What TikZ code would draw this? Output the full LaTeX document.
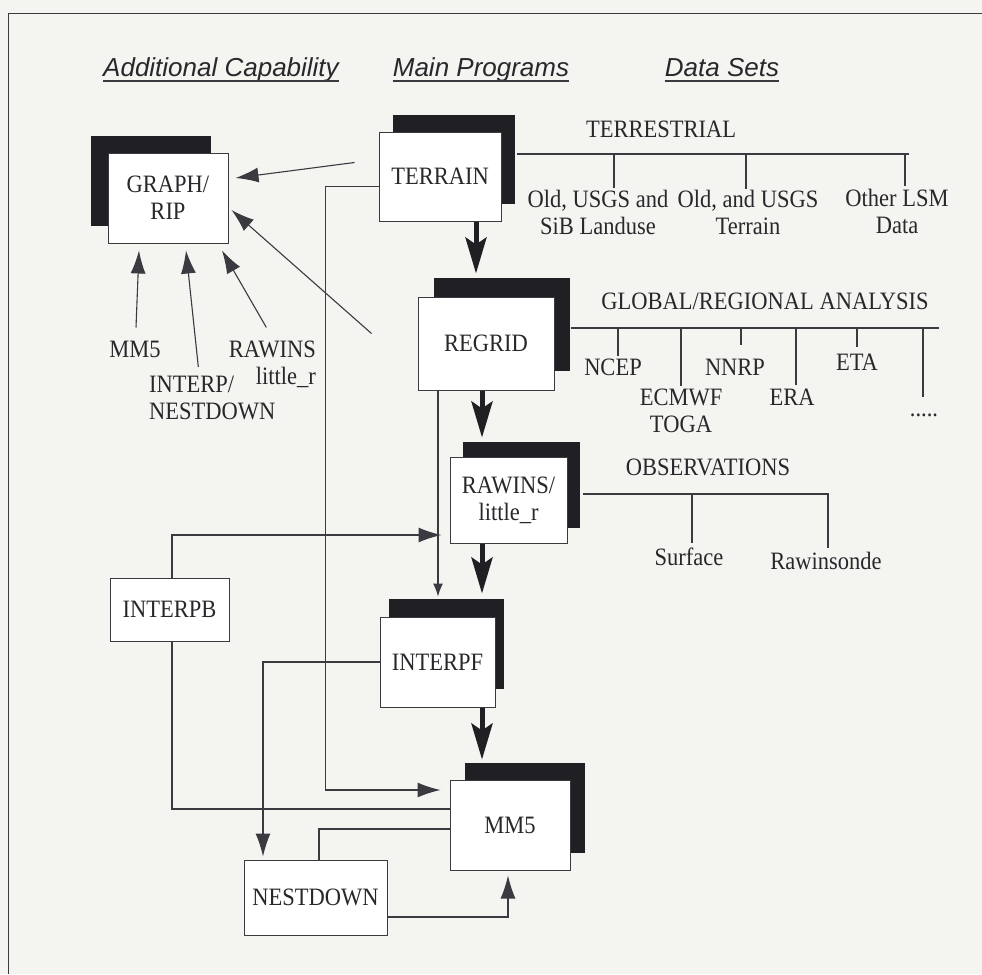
\documentclass[tikz,border=0pt]{standalone}
\usepackage{fontspec}
\setmainfont{Liberation Serif}[FakeStretch=0.9]
\setsansfont{Liberation Sans}
\definecolor{paper}{RGB}{244, 244, 241}
\definecolor{inkgray}{RGB}{58, 58, 64}
\definecolor{shadowblk}{RGB}{32, 32, 36}
\definecolor{textblk}{RGB}{40, 40, 44}
\usetikzlibrary{arrows.meta, positioning, calc, shadows}

\tikzset{
  prog/.style={draw=inkgray, line width=1pt, fill=white, inner sep=0pt, align=center, text=textblk, font=\fontsize{25}{27}\selectfont},
  boxshadow/.style 2 args={drop shadow={shadow xshift=#1, shadow yshift=#2, fill=shadowblk, opacity=1}},
  heading/.style={inner sep=0pt, anchor=base, text=textblk, font=\sffamily\itshape\fontsize{26}{30}\selectfont},
  dataset/.style={inner sep=0pt, align=center, text=textblk, font=\fontsize{25}{27}\selectfont},
  link/.style={draw=inkgray, line width=1.1pt},
  flow/.style={link, -{Latex[length=23pt, width=15pt]}},
  smallflow/.style={link, -{Latex[length=13pt, width=10pt]}},
  mainflow/.style={draw=shadowblk, line width=5pt, -{Stealth[length=36pt, width=21pt, inset=7pt]}}
}

\begin{document}
\begin{tikzpicture}[x=1pt, y=-1pt]
  \fill[paper] (0,0) rectangle (982,974);
  \useasboundingbox (0,0) rectangle (982,974);
  \draw[link, line width=0.8pt] (982,13) -- (8,13) -- (8,974);

  % Column headings
  \node[heading] (hcap) at (221,76) {Additional Capability};
  \node[heading] (hmain) at (481,76) {Main Programs};
  \node[heading] (hdata) at (722,76) {Data Sets};
  \foreach \h in {hcap, hmain, hdata} {
    \draw[link] ([yshift=-5pt]\h.base west) -- ([yshift=-5pt]\h.base east);
  }

  % Programs
  \node[prog, minimum width=120pt, minimum height=90pt, boxshadow={-17pt}{17pt}] (graph) at (168,198) {GRAPH/\\RIP};
  \node[prog, minimum width=122pt, minimum height=89pt, boxshadow={14pt}{17pt}] (terrain) at (440,176.5) {TERRAIN};
  \node[prog, minimum width=136pt, minimum height=93pt, boxshadow={16pt}{19pt}] (regrid) at (486,343.5) {REGRID};
  \node[prog, minimum width=117pt, minimum height=86pt, boxshadow={13pt}{15pt}] (rawins) at (508.5,500) {RAWINS/\\little\_r};
  \node[prog, minimum width=115pt, minimum height=90pt, boxshadow={9pt}{18pt}] (interpf) at (437.5,662) {INTERPF};
  \node[prog, minimum width=120pt, minimum height=90pt, boxshadow={15pt}{17pt}] (mm5) at (510,825) {MM5};
  \node[prog, minimum width=119pt, minimum height=63pt] (interpb) at (169.5,609.5) {INTERPB};
  \node[prog, minimum width=143pt, minimum height=75pt] (nestdown) at (315.5,897.5) {NESTDOWN};

  % Inputs to GRAPH/RIP
  \node[dataset] (mm5lbl) at (135,349) {MM5};
  \node[dataset, align=left, anchor=west] (interplbl) at (149,398) {INTERP/\\NESTDOWN};
  \node[dataset, align=right, anchor=east] (rawinslbl) at (316,364) {RAWINS\\little\_r};

  % Data sets
  \node[dataset] (terrestrial) at (661,129) {TERRESTRIAL};
  \node[dataset] (oldsib) at (598,212) {Old, USGS and\\SiB Landuse};
  \node[dataset] (oldterr) at (748,212) {Old, and USGS\\Terrain};
  \node[dataset] (otherlsm) at (897,211) {Other LSM\\Data};

  \node[dataset] (global) at (765,301) {GLOBAL/REGIONAL ANALYSIS};
  \node[dataset] (ncep) at (613,367) {NCEP};
  \node[dataset] (nnrp) at (735,367) {NNRP};
  \node[dataset] (eta) at (857,362) {ETA};
  \node[dataset] (ecmwf) at (681,411) {ECMWF\\TOGA};
  \node[dataset] (era) at (792,397) {ERA};
  \node[dataset] (moredata) at (924,415) {.....};

  \node[dataset] (observations) at (708,467) {OBSERVATIONS};
  \node[dataset] (surface) at (689,557) {Surface};
  \node[dataset] (rawinsonde) at (826,561) {Rawinsonde};

  % Data set trees
  \draw[link] ($(terrain.east)+(15,-22.5)$) coordinate (tbus) -- ++(392,0);
  \foreach \lbl/\dx/\dy in {oldsib/16/-2, oldterr/-2/-1, otherlsm/8/-3} {
    \draw[link] ($(\lbl.north)+(\dx,\dy)$) coordinate (d) -- (d |- tbus);
  }
  \draw[link] ($(regrid.east)+(16,-15.5)$) coordinate (gbus) -- ++(368,0);
  \foreach \lbl/\dx/\dy in {ncep/5/-2, ecmwf/0/-3, nnrp/6/-14, era/4/-4, eta/0/-7, moredata/-1/-16} {
    \draw[link] ($(\lbl.north)+(\dx,\dy)$) coordinate (d) -- (d |- gbus);
  }
  \draw[link] ($(rawins.east)+(15,-6)$) coordinate (obus) -- ++(246,0);
  \foreach \lbl/\dx/\dy in {surface/3/-5, rawinsonde/2/-4} {
    \draw[link] ($(\lbl.north)+(\dx,\dy)$) coordinate (d) -- (d |- obus);
  }

  % Main chain
  \draw[mainflow] ($(terrain.south)+(36,0)$) -- ($(regrid.north)+(-10,-23)$);
  \draw[mainflow] ($(regrid.south)+(-4,0)$) -- ($(rawins.north)+(-26.5,-19)$);
  \draw[mainflow] ($(rawins.south)+(-26.5,0)$) -- ($(interpf.north)+(44.5,-23)$);
  \draw[mainflow] ($(interpf.south)+(44.5,0)$) -- ($(mm5.north)+(-28,-20)$);

  % Arrows into GRAPH/RIP
  \draw[flow] ($(terrain.west)+(-24,-14)$) -- ($(graph.east)+(7,-20)$);
  \draw[flow] ($(regrid.west)+(-46,-10)$) -- ($(graph.east)+(3,12)$);
  \draw[flow] ($(mm5lbl.north)+(1,-13)$) -- ($(graph.south)+(-29,7)$);
  \draw[flow] ($(interplbl.north)+(-14,-9)$) -- ($(graph.south)+(18,7)$);
  \draw[flow] ($(rawinslbl.north)+(-6,-13)$) -- ($(graph.south)+(54,7)$);

  % Other connections
  \draw[smallflow] ($(regrid.south)+(-48,0)$) -- ($(interpf.north)+(0.5,-20)$);
  \draw[flow] ($(interpb.north)+(2.5,0)$) |- ($(rawins.west)+(-8,35)$);
  \draw[flow] ($(terrain.west)+(0,10)$) -- ++(-53,0) |- ($(mm5.west)+(-9,-35)$);
  \draw[flow] (interpf.west) -| ($(nestdown.north)+(-52.5,-3)$);
  \draw[link] ($(mm5.west)+(0,-16)$) -| ($(interpb.south)+(2.5,0)$);
  \draw[link] ($(mm5.west)+(0,4)$) -| ($(nestdown.north)+(3.5,0)$);
  \draw[flow] ($(nestdown.east)+(0,19.5)$) -| ($(mm5.south)+(-2,5)$);
\end{tikzpicture}
\end{document}
